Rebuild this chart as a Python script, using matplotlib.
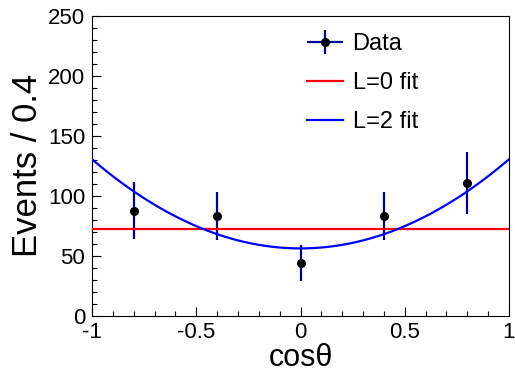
import numpy as np
import matplotlib
matplotlib.use("Agg")
import matplotlib.pyplot as plt
from matplotlib.legend_handler import HandlerErrorbar
from matplotlib.ticker import MultipleLocator, FuncFormatter

plt.rcParams['font.family'] = ['Liberation Sans', 'DejaVu Sans']

# data
cos_theta = [-0.8, -0.4, 0.0, 0.4, 0.8]
events = [87.5, 83.0, 44.0, 83.0, 110.5]
event_err = [24.0, 20.0, 15.0, 20.0, 26.0]

# fit results (L=0: flat, L=2: a + b*cos^2)
l0_level = 72.2
l2_coef = [74.4, 0.0, 56.0]

fig = plt.figure(figsize=(5.15, 3.73), dpi=100)
ax = fig.add_axes([92 / 515, (373 - 315.5) / 373, (509 - 92) / 515, (315.5 - 16) / 373])

data = ax.errorbar(cos_theta, events, yerr=event_err, xerr=0, fmt='o', color='black',
                   ms=5.5, ecolor='#000099', elinewidth=1.6, capsize=0, zorder=2)

xs = np.linspace(-1, 1, 300)
l0_line, = ax.plot([-1, 1], [l0_level, l0_level], color='#ff0000', lw=1.6, zorder=3)
l2_line, = ax.plot(xs, np.polyval(l2_coef, xs), color='#0000ff', lw=1.6, zorder=3)

ax.set_xlim(-1, 1)
ax.set_ylim(0, 250)
ax.xaxis.set_major_locator(MultipleLocator(0.5))
ax.xaxis.set_minor_locator(MultipleLocator(0.1))
ax.yaxis.set_major_locator(MultipleLocator(50))
ax.yaxis.set_minor_locator(MultipleLocator(10))
ax.xaxis.set_major_formatter(FuncFormatter(lambda v, p: f'{v:g}'))
ax.tick_params(which='both', direction='in', top=False, right=False, labelsize=16, pad=5)
ax.tick_params(which='major', length=6.5, width=0.8)
ax.tick_params(which='minor', length=3.3, width=0.8)
for s in ax.spines.values():
    s.set_linewidth(0.8)

ax.set_xlabel('cosθ', fontsize=22, labelpad=0)
ax.set_ylabel('Events / 0.4', fontsize=25, labelpad=3)

ax.legend([data, l0_line, l2_line], ['Data', 'L=0 fit', 'L=2 fit'],
          handler_map={type(data): HandlerErrorbar(xerr_size=0.76, yerr_size=0.5)},
          loc='upper left', bbox_to_anchor=(307 / 515, 1 - 33 / 373),
          bbox_transform=fig.transFigure, frameon=False, fontsize=17,
          borderpad=0, borderaxespad=0, handlelength=1.53, handletextpad=0.4,
          labelspacing=0.72)

plt.savefig('out.png', dpi=100)
